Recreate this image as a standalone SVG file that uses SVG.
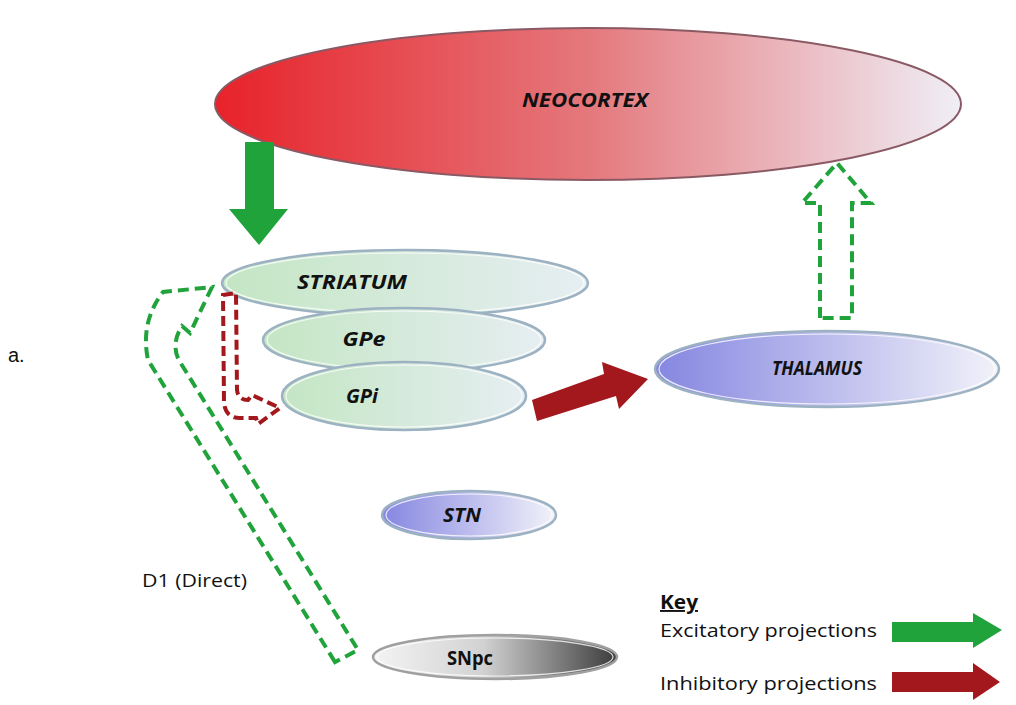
<svg xmlns="http://www.w3.org/2000/svg" width="1016" height="705" viewBox="0 0 1016 705">
<style>
.lbl{font-family:"Open Sans","Liberation Sans",sans-serif;font-weight:bold;font-style:italic;font-size:19px;fill:#111;text-anchor:middle}
.txt{font-family:"Open Sans","Liberation Sans",sans-serif;font-size:19px;fill:#111}
.edge{stroke:#9cb2c2;stroke-width:2.5}
.hl{fill:none;stroke:#ffffff;stroke-width:1.2;opacity:0.8}
.gdash{fill:none;stroke:#1fa33a;stroke-width:4;stroke-dasharray:11 6}
.rdash{fill:none;stroke:#a3181c;stroke-width:4;stroke-dasharray:10 5}
</style>
<defs>
<linearGradient id="gRed" x1="0" x2="1" y1="0" y2="0">
<stop offset="0" stop-color="#e8222a"/><stop offset="0.5" stop-color="#e4787c"/><stop offset="1" stop-color="#f0eef6"/>
</linearGradient>
<linearGradient id="gGreen" x1="0" x2="1" y1="0" y2="0">
<stop offset="0" stop-color="#c4e6c4"/><stop offset="1" stop-color="#e6eef2"/>
</linearGradient>
<linearGradient id="gBlue" x1="0" x2="1" y1="0" y2="0">
<stop offset="0" stop-color="#8586e0"/><stop offset="1" stop-color="#f2f2fa"/>
</linearGradient>
<linearGradient id="gGray" x1="0" x2="1" y1="0" y2="0">
<stop offset="0" stop-color="#f4f4f4"/><stop offset="0.45" stop-color="#d2d2d2"/><stop offset="1" stop-color="#3c3c3c"/>
</linearGradient>
</defs>

<g id="neocortex">
<ellipse cx="588" cy="104" rx="373" ry="76" fill="url(#gRed)" stroke="#8a5a64" stroke-width="2"/>
<text class="lbl" x="585" y="107" textLength="126" lengthAdjust="spacingAndGlyphs">NEOCORTEX</text>
</g>

<g id="striatum">
<ellipse cx="405" cy="283" rx="183" ry="33" fill="url(#gGreen)" class="edge"/>
<ellipse cx="405" cy="283" rx="179" ry="30" class="hl"/>
<text class="lbl" x="352" y="289" textLength="110" lengthAdjust="spacingAndGlyphs">STRIATUM</text>
</g>

<g id="gpe">
<ellipse cx="404" cy="340" rx="141" ry="32" fill="url(#gGreen)" class="edge"/>
<ellipse cx="404" cy="340" rx="137" ry="29" class="hl"/>
<text class="lbl" x="364" y="346" textLength="43" lengthAdjust="spacingAndGlyphs">GPe</text>
</g>

<g id="gpi">
<ellipse cx="404" cy="396" rx="122" ry="34" fill="url(#gGreen)" class="edge"/>
<ellipse cx="404" cy="396" rx="118" ry="31" class="hl"/>
<text class="lbl" x="362" y="403" textLength="32" lengthAdjust="spacingAndGlyphs">GPi</text>
</g>

<g id="thalamus">
<ellipse cx="827" cy="369" rx="172" ry="38" fill="url(#gBlue)" class="edge"/>
<ellipse cx="827" cy="369" rx="168" ry="35" class="hl"/>
<text class="lbl" x="817" y="375" textLength="90" lengthAdjust="spacingAndGlyphs">THALAMUS</text>
</g>

<g id="stn">
<ellipse cx="469" cy="515" rx="87" ry="24" fill="url(#gBlue)" class="edge"/>
<ellipse cx="469" cy="515" rx="83" ry="21" class="hl"/>
<text class="lbl" x="462" y="522" textLength="38" lengthAdjust="spacingAndGlyphs">STN</text>
</g>

<g id="snpc">
<ellipse cx="495" cy="657" rx="122" ry="22" fill="url(#gGray)" stroke="#a0a0a0" stroke-width="2.5"/>
<ellipse cx="495" cy="657" rx="118" ry="19" class="hl"/>
<text x="470" y="665" textLength="46" lengthAdjust="spacingAndGlyphs" style="font-family:'Open Sans','Liberation Sans',sans-serif;font-weight:bold;font-size:20px;fill:#111;text-anchor:middle">SNpc</text>
</g>

<g id="connectors">
<polygon points="245,142 274,142 274,209 288,209 259,245 229,209 245,209" fill="#1fa33a"/>
<polygon points="532,400 604,374 602,362 648,379 619,409 616,396 537,421" fill="#a3181c"/>
<path class="gdash" d="M820,318 L820,203 L802,203 L837,163 L871,203 L852,203 L852,318 Z"/>
<path class="gdash" d="M335,662 L148,360 Q140,322 163,292 L212,287 L190,333 L182,326 Q170,345 180,362 L358,650 Z"/>
<path class="rdash" d="M223,295 L236,293 L237,390 Q238,400 248,400 L252,395 L280,408 L258,424 L256,418 L240,418 Q225,418 224,402 Z"/>
</g>

<g id="labels">
<text x="8" y="362" style="font-family:'Liberation Sans',sans-serif;font-size:20px;fill:#111">a.</text>
<text class="txt" x="142" y="587" textLength="105" lengthAdjust="spacingAndGlyphs">D1 (Direct)</text>
</g>

<g id="key">
<text class="txt" x="660" y="609" textLength="38" lengthAdjust="spacingAndGlyphs" style="font-weight:bold;text-decoration:underline">Key</text>
<text class="txt" x="660" y="637" textLength="217" lengthAdjust="spacingAndGlyphs">Excitatory projections</text>
<text class="txt" x="660" y="690" textLength="217" lengthAdjust="spacingAndGlyphs">Inhibitory projections</text>
<polygon points="892,622 973,622 973,613 1002,630 973,648 973,642 892,642" fill="#1fa33a"/>
<polygon points="892,672 973,672 973,663 1000,682 973,700 973,692 892,692" fill="#a3181c"/>
</g>
</svg>
